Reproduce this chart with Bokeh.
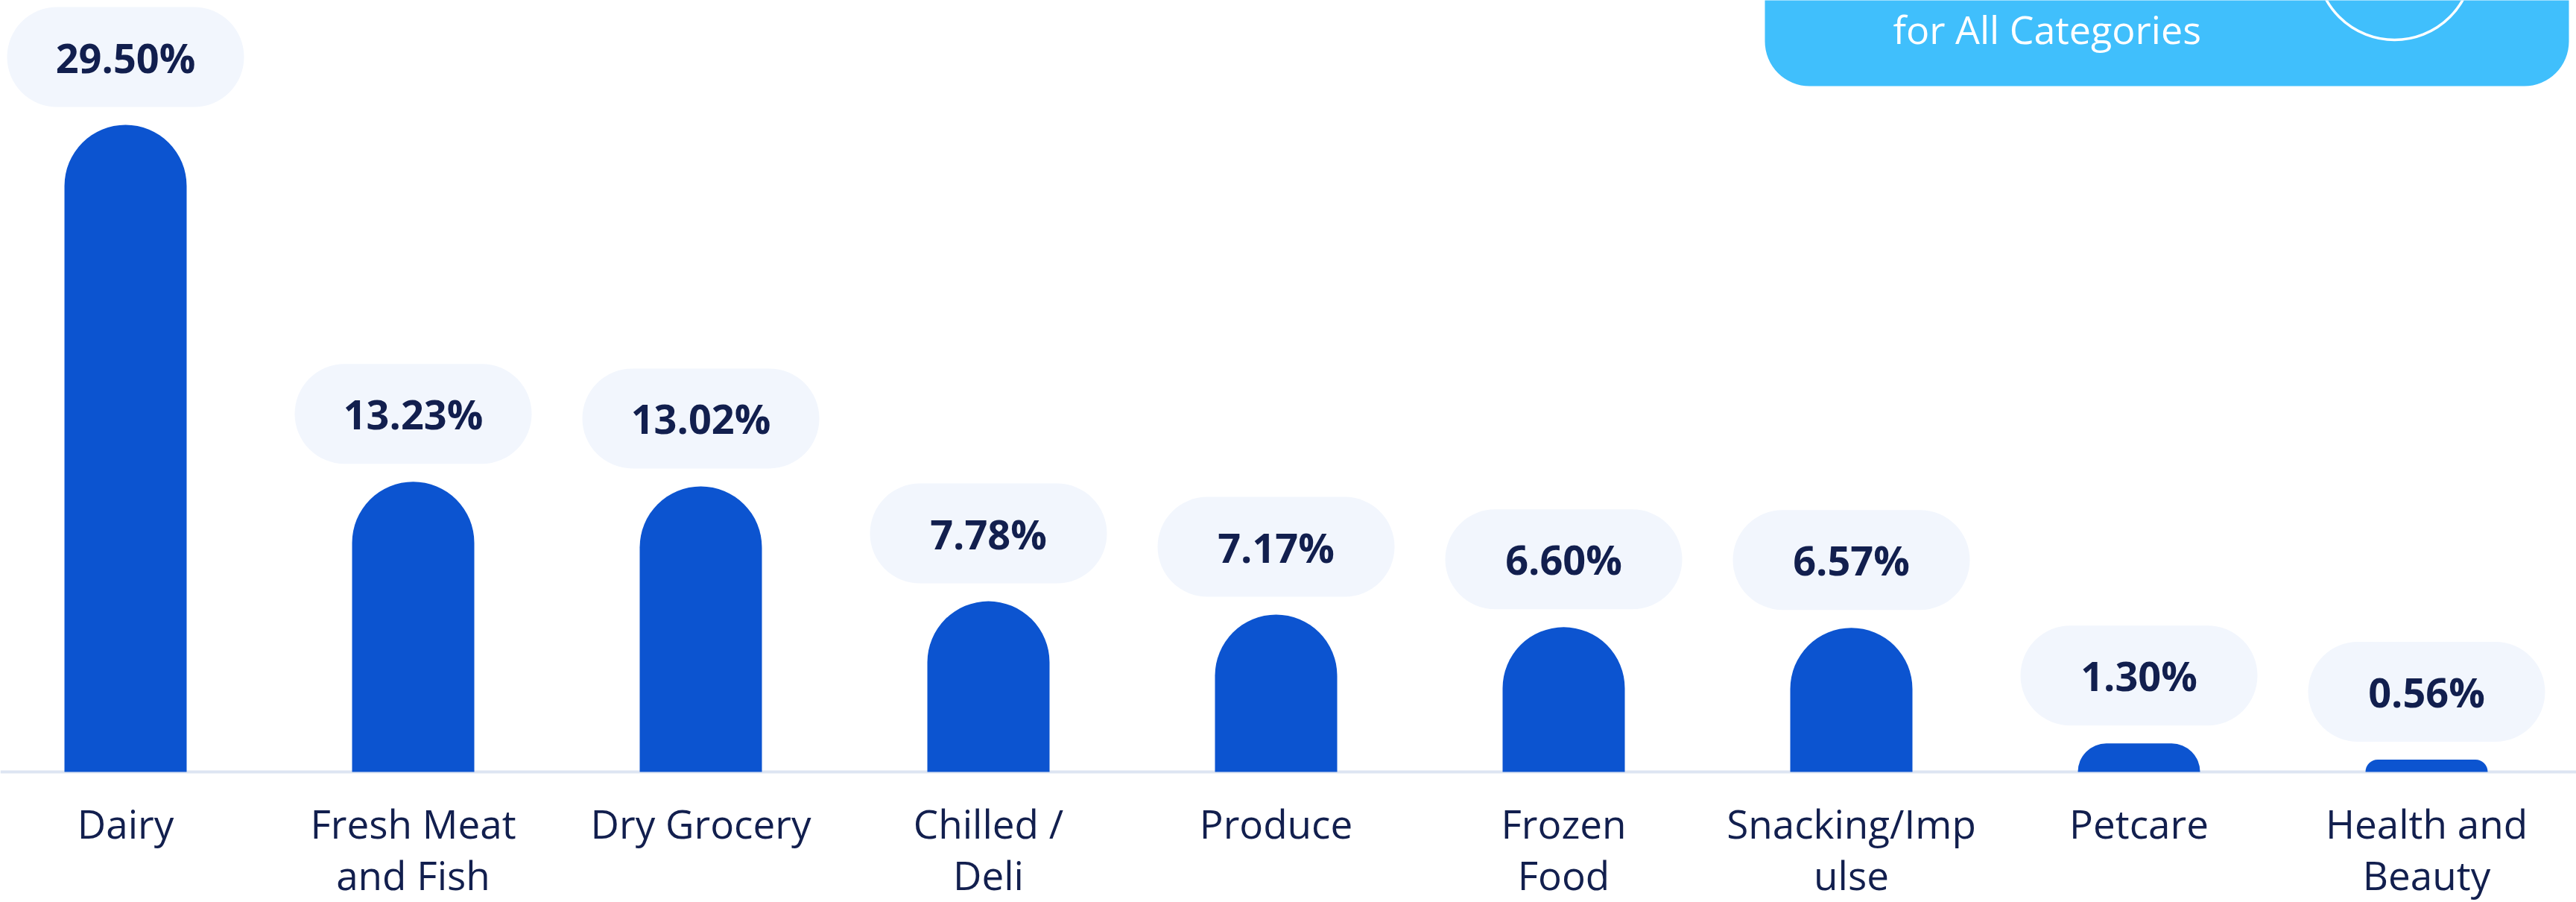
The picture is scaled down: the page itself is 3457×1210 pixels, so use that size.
import numpy as np
from bokeh.plotting import figure
from bokeh.models import Range1d, Span, ColumnDataSource
from bokeh.core.properties import value
from bokeh.embed import file_html
from bokeh.resources import INLINE

# ---------------- data ----------------
categories = ["Dairy", "Fresh Meat and Fish", "Dry Grocery", "Chilled / Deli", "Produce",
              "Frozen Food", "Snacking/Impulse", "Petcare", "Health and Beauty"]
category_ticks = ["Dairy", "Fresh Meat\nand Fish", "Dry Grocery", "Chilled /\nDeli", "Produce",
                  "Frozen\nFood", "Snacking/Imp\nulse", "Petcare", "Health and\nBeauty"]
shares = [29.50, 13.23, 13.02, 7.78, 7.17, 6.60, 6.57, 1.30, 0.56]
share_labels = ["29.50%", "13.23%", "13.02%", "7.78%", "7.17%", "6.60%", "6.57%", "1.30%", "0.56%"]
box_text = "for All Categories"

# ---------------- layout / styling ----------------
W, H = 3457, 1210
PPX = 386.0                # pixels per category
PPY = 868.0 / 29.5         # pixels per percentage point
X0 = -168.0 / PPX
X1 = X0 + W / PPX
BASE_ROW = 1035            # frame pixel row of the zero line
Y1 = BASE_ROW / PPY
Y0 = Y1 - H / PPY

def fx(px):  # frame pixel column -> data x
    return X0 + px / PPX

def fy(py):  # frame pixel row -> data y
    return Y1 - py / PPY

BAR_COLOR = "#0c54d0"
PILL_COLOR = "#f2f6fd"
TEXT_COLOR = "#121f4e"
BOX_COLOR = "#40bffc"
BASE_COLOR = "#dde5f2"

idx = np.arange(len(categories))
vals = np.array(shares)

src = ColumnDataSource(dict(
    x=idx, top=vals, cat=category_ticks, lab=share_labels,
    pl=idx - 159 / PPX, pr=idx + 159 / PPX,
    pb=vals + 24 / PPY, pt=vals + 158 / PPY, pc=vals + 91 / PPY,
    ly=np.full(len(idx), -32 / PPY),
))

p = figure(width=W, height=H, x_range=Range1d(X0, X1), y_range=Range1d(Y0, Y1),
           output_backend="svg", toolbar_location=None, min_border=0,
           x_axis_location=None, y_axis_location=None, outline_line_color=None)
p.grid.visible = False
p.background_fill_color = "white"
p.border_fill_color = "white"

# baseline
p.add_layout(Span(location=0, dimension="width", line_color=BASE_COLOR, line_width=4, level="underlay"))

# bars with rounded tops
p.vbar(x="x", top="top", bottom=0, width=164 / PPX, source=src,
       fill_color=BAR_COLOR, line_color=None, border_radius=(82, 82, 0, 0))

# value pills
p.quad(left="pl", right="pr", bottom="pb", top="pt", source=src,
       fill_color=PILL_COLOR, line_color=None, border_radius=67)
p.text(x="x", y="pc", text="lab", source=src, text_align="center", text_baseline="middle",
       text_font=value("Open Sans"), text_font_style="bold", text_font_size="54px",
       text_color=TEXT_COLOR)

# category labels
p.text(x="x", y="ly", text="cat", source=src, text_align="center", text_baseline="top",
       text_font=value("Open Sans"), text_font_size="53px", text_line_height=0.955,
       text_color=TEXT_COLOR)

# top-right callout box (cropped)
p.quad(left=[fx(2368)], right=[fx(3447)], bottom=[fy(115)], top=[fy(-200)],
       fill_color=BOX_COLOR, line_color=None, border_radius=60)
p.circle(x=[fx(3213)], y=[fy(-52)], radius=105, radius_units="screen",
         fill_color=None, line_color="white", line_width=3.5)
p.text(x=[fx(2540)], y=[fy(38)], text=[box_text], text_align="left", text_baseline="alphabetic",
       text_font=value("Open Sans"), text_font_size="52px", text_color="white")

open("out.html", "w").write(file_html(p, INLINE))
